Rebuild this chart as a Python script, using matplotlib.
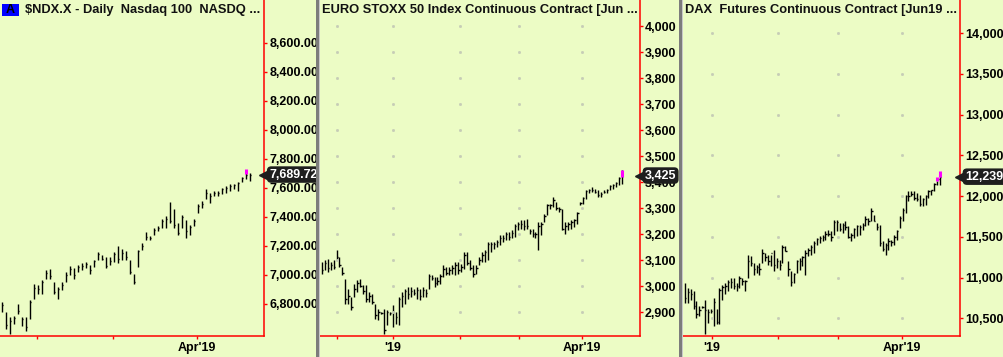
import matplotlib
matplotlib.use('Agg')
import matplotlib.pyplot as plt
from matplotlib.patches import Rectangle
from matplotlib.transforms import blended_transform_factory

plt.rcParams['font.family'] = ['Liberation Sans', 'DejaVu Sans']

BG = '#ecfcc5'
W, H = 1004, 357

# ---- Nasdaq 100 daily bars (high / low / close)
ndx_high = [6809, 6740, 6705, 6716, 6798, 6705, 6705, 6821, 6937, 6926, 6961, 7030, 7035, 6949, 6914, 6949,
            7019, 7058, 7042, 7065, 7077, 7089, 7065, 7100, 7158, 7135, 7123, 7123, 7158, 7198, 7175, 7165,
            7100, 7007, 7170, 7216, 7291, 7268, 7321, 7333, 7384, 7403, 7500, 7454, 7356, 7414, 7379, 7344,
            7384, 7484, 7507, 7589, 7565, 7577, 7577, 7600, 7612, 7624, 7624, 7635, 7670, 7705, 7700]
ndx_low = [6740, 6623, 6588, 6658, 6728, 6647, 6612, 6693, 6833, 6868, 6868, 6972, 6972, 6868, 6833, 6891,
           6949, 6996, 6972, 7019, 7030, 7042, 7007, 7054, 7100, 7100, 7042, 7065, 7089, 7077, 7100, 7100,
           7007, 6937, 7054, 7170, 7240, 7235, 7275, 7298, 7321, 7321, 7356, 7321, 7275, 7321, 7251, 7275,
           7333, 7426, 7461, 7519, 7496, 7542, 7542, 7554, 7565, 7577, 7589, 7577, 7635, 7658, 7647]
ndx_close = [6790, 6650, 6680, 6700, 6750, 6690, 6640, 6810, 6910, 6900, 6950, 7010, 6990, 6880, 6900, 6930,
             7000, 7040, 7000, 7050, 7060, 7070, 7030, 7090, 7140, 7110, 7060, 7090, 7140, 7110, 7150, 7120,
             7020, 6950, 7160, 7200, 7260, 7250, 7310, 7320, 7370, 7380, 7370, 7340, 7290, 7400, 7300, 7330,
             7370, 7470, 7490, 7560, 7540, 7560, 7565, 7590, 7600, 7610, 7615, 7630, 7665, 7690, 7689.72]
ndx_flags = [(61, 7693, 7728)]
ndx_levels = [6800, 7000, 7200, 7400, 7600, 7800, 8000, 8200, 8400, 8600]
ndx_months = [8.8, 27.8, 48.8]
ndx_month_labels = ['', '', "Apr'19"]

# ---- EURO STOXX 50 futures
sx_high = [3093, 3099, 3106, 3093, 3099, 3140, 3112, 3073, 3029, 2990, 2958, 3009, 3022, 3029, 3003, 3003,
           2977, 2971, 2932, 2913, 2900, 2913, 2907, 2900, 2926, 2900, 2958, 2977, 2990, 2996, 2996, 2990,
           2996, 2990, 2996, 2990, 3048, 3041, 3035, 3035, 3048, 3080, 3073, 3073, 3080, 3093, 3093, 3086,
           3131, 3131, 3099, 3080, 3080, 3112, 3131, 3138, 3170, 3170, 3170, 3176, 3195, 3195, 3208, 3208,
           3215, 3240, 3247, 3253, 3253, 3259, 3221, 3221, 3208, 3247, 3247, 3279, 3317, 3317, 3343, 3324,
           3304, 3298, 3247, 3247, 3253, 3259, 3285, 3324, 3343, 3369, 3375, 3381, 3375, 3369, 3362, 3369,
           3375, 3388, 3394, 3401, 3420, 3446]
sx_low = [3048, 3061, 3054, 3061, 3067, 3099, 3073, 3041, 2932, 2932, 2907, 2958, 2977, 2996, 2971, 2939,
          2939, 2932, 2875, 2871, 2894, 2817, 2849, 2887, 2843, 2855, 2849, 2919, 2932, 2952, 2958, 2964,
          2952, 2945, 2958, 2958, 2990, 3022, 2996, 3003, 3009, 3035, 3041, 3041, 3048, 3041, 3048, 3054,
          3067, 3080, 3061, 3035, 3048, 3080, 3093, 3093, 3099, 3131, 3144, 3150, 3157, 3170, 3176, 3176,
          3183, 3189, 3215, 3221, 3215, 3221, 3202, 3189, 3183, 3140, 3195, 3247, 3272, 3298, 3304, 3292,
          3285, 3215, 3202, 3215, 3221, 3227, 3240, 3311, 3317, 3336, 3356, 3362, 3356, 3343, 3343, 3356,
          3356, 3369, 3375, 3381, 3388, 3394]
sx_close = [3060, 3090, 3070, 3080, 3075, 3110, 3080, 3050, 2950, 2960, 2920, 2990, 3010, 3000, 2980, 2950,
            2960, 2940, 2890, 2900, 2897, 2830, 2900, 2895, 2900, 2880, 2950, 2960, 2980, 2970, 2980, 2975,
            2985, 2960, 2985, 2975, 3040, 3030, 3010, 3020, 3040, 3065, 3050, 3060, 3070, 3080, 3060, 3075,
            3120, 3090, 3070, 3045, 3070, 3100, 3120, 3130, 3160, 3160, 3160, 3170, 3185, 3185, 3200, 3190,
            3205, 3230, 3240, 3240, 3230, 3230, 3210, 3200, 3200, 3230, 3240, 3270, 3310, 3310, 3330, 3300,
            3295, 3220, 3230, 3240, 3245, 3255, 3280, 3320, 3340, 3365, 3370, 3370, 3360, 3350, 3355, 3360,
            3370, 3385, 3390, 3395, 3415, 3425]
sx_flags = [(101, 3420, 3446)]
sx_levels = [2900, 3000, 3100, 3200, 3300, 3400, 3500, 3600, 3700, 3800, 3900, 4000]
sx_months = [5.15, 24.0, 46.6, 66.4, 87.6]
sx_month_labels = ['', "'19", '', '', "Apr'19"]

# ---- DAX futures
dax_high = [10935, 10874, 10854, 10833, 10711, 10650, 10650, 10731, 10609, 10609, 10752, 10609, 10874, 10915,
            10935, 10976, 10997, 10997, 10935, 11017, 10997, 10976, 11282, 11262, 11180, 11160, 11180, 11352,
            11303, 11282, 11282, 11344, 11241, 11221, 11405, 11384, 11201, 11078, 11058, 11221, 11241, 11262,
            11344, 11364, 11405, 11445, 11486, 11507, 11527, 11568, 11588, 11568, 11711, 11711, 11670, 11670,
            11690, 11629, 11547, 11609, 11649, 11649, 11670, 11751, 11731, 11853, 11772, 11670, 11649, 11445,
            11425, 11486, 11466, 11527, 11588, 11751, 11853, 12017, 12057, 12057, 12057, 12037, 12017, 11976,
            12017, 12078, 12078, 12159, 12180, 12241]
dax_low = [10690, 10690, 10731, 10609, 10507, 10527, 10629, 10303, 10446, 10568, 10405, 10425, 10425, 10731,
           10793, 10833, 10874, 10854, 10833, 10874, 10915, 10833, 10997, 11139, 11038, 11058, 11038, 11180,
           11201, 11160, 11139, 11078, 11119, 11099, 11180, 11323, 11017, 10895, 10935, 11058, 11099, 11139,
           11038, 11262, 11282, 11303, 11405, 11425, 11445, 11466, 11507, 11445, 11527, 11568, 11568, 11547,
           11588, 11486, 11445, 11486, 11507, 11527, 11588, 11629, 11649, 11690, 11690, 11588, 11384, 11323,
           11282, 11344, 11384, 11405, 11466, 11609, 11690, 11792, 11935, 11996, 11955, 11935, 11874, 11874,
           11894, 11976, 12017, 12057, 12139, 12139]
dax_close = [10750, 10820, 10800, 10650, 10550, 10600, 10640, 10600, 10580, 10590, 10700, 10450, 10850, 10880,
             10900, 10950, 10950, 10900, 10900, 10990, 10960, 10960, 11200, 11180, 11100, 11130, 11100, 11300,
             11250, 11200, 11300, 11150, 11200, 11150, 11380, 11330, 11100, 10950, 11040, 11200, 11200, 11250,
             11300, 11340, 11380, 11420, 11470, 11480, 11500, 11540, 11540, 11500, 11680, 11680, 11600, 11650,
             11620, 11500, 11520, 11600, 11630, 11620, 11650, 11720, 11700, 11820, 11700, 11620, 11420, 11350,
             11400, 11450, 11440, 11500, 11570, 11730, 11830, 12000, 12000, 12030, 11980, 11960, 11900, 11960,
             12000, 12060, 12070, 12150, 12210, 12239]
dax_flags = [(88, 12180, 12241), (89, 12241, 12310)]
dax_levels = [10500, 11000, 11500, 12000, 12500, 13000, 13500, 14000]
dax_months = [9.4, 32.5, 53.4, 75.7]
dax_month_labels = ["'19", '', '', "Apr'19"]

titles = ["\\$NDX.X - Daily  Nasdaq 100  NASDQ ...",
          "EURO STOXX 50 Index Continuous Contract [Jun ...",
          "DAX  Futures Continuous Contract [Jun19 ..."]

for h, l, c in [(ndx_high, ndx_low, ndx_close), (sx_high, sx_low, sx_close),
                (dax_high, dax_low, dax_close)]:
    assert len(h) == len(l) == len(c), (len(h), len(l), len(c))


def px(x0, x1):
    return x0 / W, (x1 - x0) / W


def draw_panel(ax, highs, lows, closes, flags, levels, months, month_labels,
               xlim, ylim, fmt, tick_w, grid):
    ax.set_facecolor(BG)
    xs = list(range(len(highs)))
    ax.vlines(xs, lows, highs, color='black', lw=1.0)
    ax.hlines(closes, xs, [x + tick_w for x in xs], color='black', lw=1.0)
    for i, lo, hi in flags:
        ax.vlines(i, lo, hi, color='#ff00ff', lw=2.2)
    if grid:
        gx = [m for m in months for _ in levels]
        gy = [v for _ in months for v in levels]
        ax.plot(gx, gy, ls='none', marker='s', ms=1.0, color='#c6ccb6')
    ax.set_xlim(*xlim)
    ax.set_ylim(*ylim)
    for s in ['left', 'top']:
        ax.spines[s].set_visible(False)
    for s in ['right', 'bottom']:
        ax.spines[s].set_color('red')
        ax.spines[s].set_linewidth(1.1)
    ax.yaxis.tick_right()
    ax.set_yticks(levels)
    ax.set_yticklabels([fmt.format(v) for v in levels])
    ax.set_xticks(months)
    ax.set_xticklabels(month_labels)
    ax.tick_params(axis='y', colors='red', length=2.5, width=1, pad=1,
                   labelcolor='black', labelsize=9)
    ax.tick_params(axis='x', colors='red', length=2.5, width=1, pad=1.5,
                   labelcolor='black', labelsize=9)
    for t in ax.get_xticklabels() + ax.get_yticklabels():
        t.set_fontweight('bold')
    # last price tag
    last = closes[-1]
    tr = blended_transform_factory(ax.transAxes, ax.transData)
    ax.plot([1.0], [last], marker='<', ms=7, color='#1e1e1e', transform=tr, clip_on=False, zorder=5)
    ax.annotate(fmt.format(last), xy=(1.0, last), xycoords=tr, xytext=(3.5, 0),
                textcoords='offset points', ha='left', va='center', color='white',
                fontsize=9, fontweight='bold', zorder=6, annotation_clip=False,
                bbox=dict(boxstyle='round,pad=0.18,rounding_size=0.35', fc='#1e1e1e', ec='none'))


fig = plt.figure(figsize=(W / 100, H / 100), dpi=100, facecolor=BG)
bottom = (H - 336) / H
height = 336 / H

l1, w1 = px(0, 264.3)
ax1 = fig.add_axes([l1, bottom, w1, height])
draw_panel(ax1, ndx_high, ndx_low, ndx_close, ndx_flags, ndx_levels, ndx_months,
           ndx_month_labels, (-0.43, 65.6), (6576, 8894), '{:,.2f}', 0.4, False)

l2, w2 = px(319, 640)
ax2 = fig.add_axes([l2, bottom, w2, height])
draw_panel(ax2, sx_high, sx_low, sx_close, sx_flags, sx_levels, sx_months,
           sx_month_labels, (-0.9, 107.2), (2808, 4100), '{:,.0f}', 0.5, True)

l3, w3 = px(683, 960)
ax3 = fig.add_axes([l3, bottom, w3, height])
draw_panel(ax3, dax_high, dax_low, dax_close, dax_flags, dax_levels, dax_months,
           dax_month_labels, (-0.7, 96.0), (10283, 14408), '{:,.2f}', 0.5, True)

# separators between panels
for xs in [316, 679]:
    fig.add_artist(Rectangle((xs / W, 0), 3 / W, 1, transform=fig.transFigure,
                             fc='#7c7c7c', ec='none', zorder=10))
    fig.add_artist(Rectangle(((xs + 3) / W, 0), 1.5 / W, 1, transform=fig.transFigure,
                             fc='#c8c8c8', ec='none', zorder=10))

# titles
ty = 1 - 10.5 / H
fig.add_artist(Rectangle((2 / W, 1 - 16 / H), 17 / W, 12 / H, transform=fig.transFigure,
                         fc='#0000ff', ec='none'))
fig.text(10.5 / W, 1 - 10 / H, 'A', ha='center', va='center', fontsize=9, fontweight='bold')
for x0, t in zip([25, 322, 685], titles):
    fig.text(x0 / W, ty, t, ha='left', va='center', fontsize=9.3, fontweight='bold', color='#111111')

fig.savefig('out.png', dpi=100, facecolor=BG)
